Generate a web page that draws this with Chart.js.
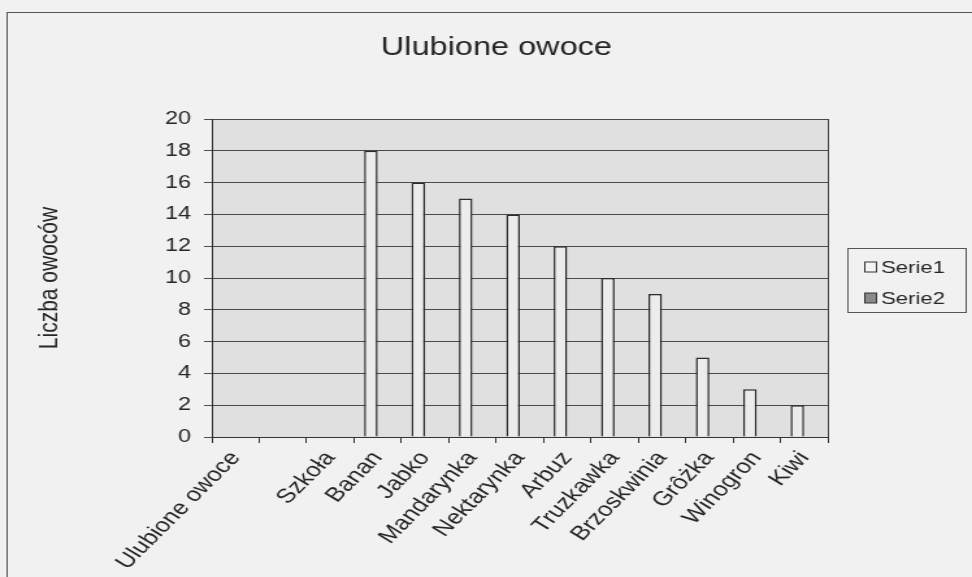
<!DOCTYPE html>
<html>
<head>
<meta charset="utf-8">
<script src="https://cdn.jsdelivr.net/npm/chart.js@4"></script>
<style>
  html, body { margin: 0; padding: 0; background: #f1f1f1; overflow: hidden; }
  /* the scanned chart is stretched sideways, so the canvas is too */
  #wrap { width: 748px; height: 577px; transform: scaleX(1.2995); transform-origin: 0 0; }
  #chart { width: 748px; height: 577px; }
</style>
</head>
<body>
<div id="wrap"><canvas id="chart" width="748" height="577"></canvas></div>
<script>
const categories = ['Ulubione owoce', '', 'Szkoła', 'Banan', 'Jabko', 'Mandarynka', 'Nektarynka',
  'Arbuz', 'Truzkawka', 'Brzoskwinia', 'Grôżka', 'Winogron', 'Kiwi'];
const serie1 = [null, null, null, 18, 16, 15, 14, 12, 10, 9, 5, 3, 2];
const serie2 = [null, null, null, null, null, null, null, null, null, null, null, null, null];
const yTicks = [0, 2, 4, 6, 8, 10, 12, 14, 16, 18, 20];

const FONT = '"Liberation Sans", Arial, sans-serif';
const INK = '#262626';

// page, outer frame and grey plot area
const backdrop = {
  id: 'backdrop',
  beforeDraw(chart) {
    const { ctx, chartArea: a, width, height } = chart;
    ctx.save();
    ctx.fillStyle = '#f1f1f1';
    ctx.fillRect(0, 0, width, height);
    ctx.strokeStyle = '#555';
    ctx.lineWidth = 1;
    ctx.strokeRect(5.5, 12.5, width + 20, height + 20);
    ctx.fillStyle = '#e0e0e0';
    ctx.fillRect(a.left, a.top, a.right - a.left, a.bottom - a.top);
    ctx.restore();
  },
  afterDraw(chart) {
    const { ctx, chartArea: a } = chart;
    ctx.save();
    ctx.strokeStyle = '#444';
    ctx.lineWidth = 1;
    ctx.beginPath();
    ctx.moveTo(Math.round(a.right) + 0.5, a.top);
    ctx.lineTo(Math.round(a.right) + 0.5, a.bottom);
    ctx.stroke();
    ctx.restore();
  }
};

// boxed legend like the excel one
const boxLegend = {
  id: 'boxLegend',
  afterDraw(chart) {
    const ctx = chart.ctx;
    const x = 652.5, y = 248.5, w = 91, h = 64;
    ctx.save();
    ctx.strokeStyle = '#555';
    ctx.lineWidth = 1;
    ctx.strokeRect(x, y, w, h);
    ctx.font = '17px ' + FONT;
    ctx.textBaseline = 'middle';
    chart.data.datasets.forEach((ds, i) => {
      const cy = 267 + i * 31;
      ctx.fillStyle = ds.legendFill;
      ctx.fillRect(665.5, cy - 5, 9, 10);
      ctx.strokeStyle = '#333';
      ctx.strokeRect(665.5, cy - 5, 9, 10);
      ctx.fillStyle = INK;
      ctx.fillText(ds.label, 678, cy + 1);
    });
    ctx.restore();
  }
};

new Chart(document.getElementById('chart'), {
  type: 'bar',
  data: {
    labels: categories,
    datasets: [{
      label: 'Serie1',
      data: serie1,
      backgroundColor: '#ececec',
      borderColor: '#2a2a2a',
      borderWidth: 1.5,
      legendFill: '#f4f4f4'
    }, {
      label: 'Serie2',
      data: serie2,
      backgroundColor: '#8a8a8a',
      borderColor: '#2a2a2a',
      borderWidth: 1.5,
      legendFill: '#8a8a8a'
    }]
  },
  options: {
    responsive: false,
    animation: false,
    layout: { padding: { left: 16, right: 0, top: 0, bottom: 0 } },
    datasets: { bar: { categoryPercentage: 0.5714, barPercentage: 1 } },
    plugins: {
      legend: { display: false },
      tooltip: { enabled: false },
      title: {
        display: true,
        text: 'Ulubione owoce',
        color: INK,
        font: { family: FONT, size: 25, weight: 'normal' },
        padding: { top: 33, bottom: 56 }
      }
    },
    scales: {
      x: {
        offset: true,
        afterFit(scale) { scale.height = 140; },
        border: { display: true, color: '#333', width: 1 },
        grid: { offset: true, drawOnChartArea: false, color: '#333', tickLength: 6 },
        ticks: {
          autoSkip: false,
          minRotation: 52,
          maxRotation: 52,
          padding: 4,
          color: INK,
          font: { family: FONT, size: 20 }
        }
      },
      y: {
        min: 0,
        max: 20,
        afterFit(scale) { scale.width = 147; },
        afterBuildTicks(scale) { scale.ticks = yTicks.map(v => ({ value: v })); },
        border: { display: true, color: '#333', width: 1 },
        grid: { color: '#4a4a4a', tickLength: 6 },
        ticks: {
          padding: 10,
          color: INK,
          font: { family: FONT, size: 18 }
        },
        title: {
          display: true,
          text: 'Liczba owoców',
          color: INK,
          font: { family: FONT, size: 21 },
          padding: { top: 10, bottom: 0 }
        }
      },
      // empty right axis, only keeps room for the legend
      side: {
        type: 'linear',
        position: 'right',
        afterFit(scale) { scale.width = 111; },
        grid: { display: false },
        border: { display: false },
        ticks: { display: false }
      }
    }
  },
  plugins: [backdrop, boxLegend]
});
</script>
</body>
</html>
